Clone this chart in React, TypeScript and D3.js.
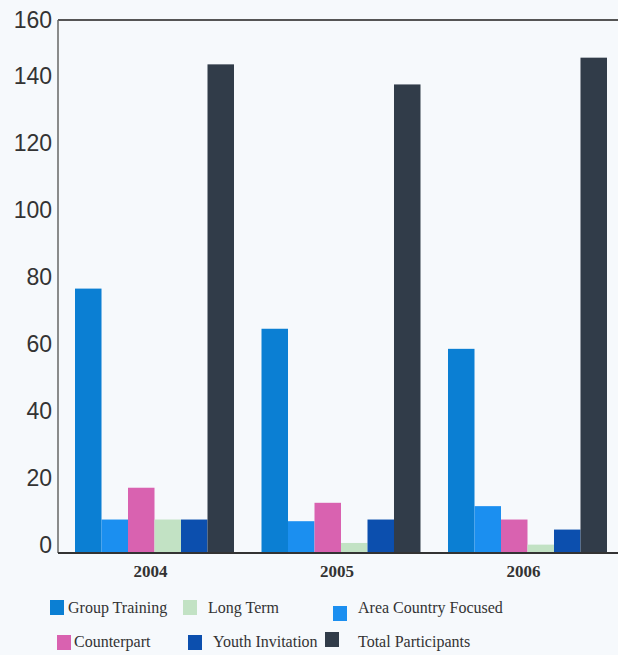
import React, { useEffect, useRef } from "react";
import * as d3 from "d3";

// categories and series
const years = ["2004", "2005", "2006"];
const seriesNames = [
  "Group Training",
  "Area Country Focused",
  "Counterpart",
  "Long Term",
  "Youth Invitation",
  "Total Participants",
];
const groupTraining = [79, 67, 61];
const areaCountryFocused = [10, 9.5, 14];
const counterpart = [19.5, 15, 10];
const longTerm = [10, 3, 2.5];
const youthInvitation = [10, 10, 7];
const totalParticipants = [146, 140, 148];
const yTicks = [0, 20, 40, 60, 80, 100, 120, 140, 160];

const seriesValues = [
  groupTraining,
  areaCountryFocused,
  counterpart,
  longTerm,
  youthInvitation,
  totalParticipants,
];

const colors: Record<string, string> = {
  "Group Training": "#0b7fd3",
  "Area Country Focused": "#1b8ff0",
  Counterpart: "#d962b0",
  "Long Term": "#c2e2c4",
  "Youth Invitation": "#0c4fae",
  "Total Participants": "#313c49",
};

// legend layout (scan is slightly irregular, so positions are per item)
const legendLayout = [
  { name: "Group Training", sx: 50, sy: 600, tx: 68, ty: 613 },
  { name: "Long Term", sx: 183, sy: 600, tx: 208, ty: 613 },
  { name: "Area Country Focused", sx: 333, sy: 606, tx: 358, ty: 613 },
  { name: "Counterpart", sx: 57, sy: 635, tx: 74, ty: 647 },
  { name: "Youth Invitation", sx: 188, sy: 635, tx: 213, ty: 647 },
  { name: "Total Participants", sx: 325, sy: 632, tx: 358, ty: 647 },
];

const W = 618;
const H = 655;
const left = 58;
const frameTop = 20;
const baseline = 553;

export default function App() {
  const ref = useRef<SVGSVGElement | null>(null);

  useEffect(() => {
    const svg = d3.select(ref.current!);
    svg.selectAll("*").remove();

    svg
      .append("rect")
      .attr("width", W)
      .attr("height", H)
      .attr("fill", "#f6f9fc");

    const x = d3
      .scaleBand<string>()
      .domain(years)
      .range([left, 624])
      .paddingInner(0.1475)
      .paddingOuter(0.0912);

    const xInner = d3
      .scaleBand<string>()
      .domain(seriesNames)
      .range([0, x.bandwidth()]);

    const y = d3.scaleLinear().domain([0, 160]).range([baseline, 17.5]);

    // bars
    const groups = svg
      .append("g")
      .selectAll("g")
      .data(years)
      .join("g")
      .attr("transform", (d) => `translate(${x(d)},0)`);

    groups
      .selectAll("rect")
      .data((_, i) =>
        seriesNames.map((name, s) => ({ name, value: seriesValues[s][i] }))
      )
      .join("rect")
      .attr("x", (d) => xInner(d.name)!)
      .attr("width", xInner.bandwidth())
      .attr("y", (d) => y(d.value))
      .attr("height", (d) => baseline - y(d.value))
      .attr("fill", (d) => colors[d.name]);

    // frame
    svg
      .append("line")
      .attr("x1", left)
      .attr("x2", W)
      .attr("y1", frameTop)
      .attr("y2", frameTop)
      .attr("stroke", "#555")
      .attr("stroke-width", 2);
    svg
      .append("line")
      .attr("x1", left)
      .attr("x2", left)
      .attr("y1", frameTop)
      .attr("y2", baseline)
      .attr("stroke", "#666")
      .attr("stroke-width", 1.5);
    svg
      .append("line")
      .attr("x1", left)
      .attr("x2", W)
      .attr("y1", baseline)
      .attr("y2", baseline)
      .attr("stroke", "#333")
      .attr("stroke-width", 2);

    // y tick labels, bottom-aligned on their value
    svg
      .append("g")
      .selectAll("text")
      .data(yTicks)
      .join("text")
      .attr("x", 52)
      .attr("y", (d) => Math.max(y(d), 28))
      .attr("text-anchor", "end")
      .attr("font-family", "Liberation Sans, Arial, sans-serif")
      .attr("font-size", 23)
      .attr("fill", "#333")
      .text((d) => d);

    // x labels
    svg
      .append("g")
      .selectAll("text")
      .data(years)
      .join("text")
      .attr("x", (d) => x(d)! + x.bandwidth() / 2 - 4)
      .attr("y", 577)
      .attr("text-anchor", "middle")
      .attr("font-family", "Liberation Serif, Times New Roman, serif")
      .attr("font-weight", "bold")
      .attr("font-size", 17)
      .attr("fill", "#333")
      .text((d) => d);

    // legend
    const legend = svg.append("g").selectAll("g").data(legendLayout).join("g");
    legend
      .append("rect")
      .attr("x", (d) => d.sx)
      .attr("y", (d) => d.sy)
      .attr("width", 14)
      .attr("height", 15)
      .attr("fill", (d) => colors[d.name]);
    legend
      .append("text")
      .attr("x", (d) => d.tx)
      .attr("y", (d) => d.ty)
      .attr("font-family", "Liberation Serif, Times New Roman, serif")
      .attr("font-size", 16)
      .attr("fill", "#333")
      .text((d) => d.name);
  }, []);

  return (
    <svg
      ref={ref}
      width={W}
      height={H}
      style={{ position: "absolute", left: 0, top: 0 }}
    />
  );
}
